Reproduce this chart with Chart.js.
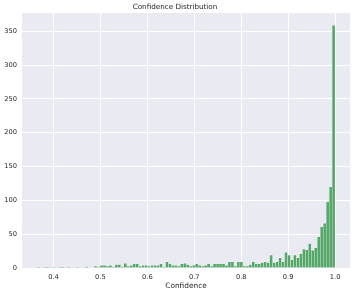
<!DOCTYPE html>
<html>
<head>
<meta charset="utf-8">
<script src="https://cdn.jsdelivr.net/npm/chart.js@4/dist/chart.umd.min.js"></script>
<style>
  html, body { margin: 0; padding: 0; background: #fff; }
  #wrap { width: 354px; height: 294px; }
</style>
</head>
<body>
<div id="wrap"><canvas id="chart" width="354" height="294"></canvas></div>
<script>
// histogram bins (100 bins from min confidence to 1.0)
const binStart = 0.366;
const binWidth = 0.00634;
const counts = [
  1, 0, 1, 1, 0, 1, 0, 1, 1, 0, 1, 0, 0, 1, 0, 0, 2, 0, 0, 3, 1,
  4, 4, 3, 4, 1, 5, 5, 2, 7, 3, 4, 6, 6, 3, 4, 4, 3, 4, 4, 4, 6, 1, 9, 6, 4, 4,
  3, 6, 7, 5, 3, 4, 6, 4, 3, 4, 6, 3, 6, 6, 6, 6, 4, 9, 9, 3, 9,
  9, 3, 3, 5, 9, 6, 6, 8, 9, 8, 19, 8, 9, 15, 9, 23, 19, 12, 19, 15, 21, 28, 27, 36, 26, 30, 46, 61, 66, 98, 120, 359
];
const xTicks = [0.4, 0.5, 0.6, 0.7, 0.8, 0.9, 1.0];
const yTicks = [0, 50, 100, 150, 200, 250, 300, 350];

const points = counts.map((c, i) => ({ x: binStart + (i + 0.5) * binWidth, y: c }));

const FONT = 'DejaVu Sans';
const TEXT = '#262626';

// grey plot background like seaborn darkgrid
const plotBg = {
  id: 'plotBg',
  beforeDraw(chart) {
    const { ctx, chartArea: a } = chart;
    ctx.save();
    ctx.fillStyle = '#eaeaf2';
    ctx.fillRect(a.left, a.top, a.right - a.left, a.bottom - a.top);
    ctx.restore();
  }
};

new Chart(document.getElementById('chart'), {
  type: 'bar',
  data: {
    datasets: [{
      data: points,
      backgroundColor: '#55a868',
      borderColor: 'rgba(255,255,255,0.45)',
      borderWidth: 0.5,
      barPercentage: 1,
      categoryPercentage: 1
    }]
  },
  options: {
    responsive: false,
    animation: false,
    layout: { padding: { left: 0, right: 4, top: 0, bottom: 0 } },
    plugins: {
      legend: { display: false },
      tooltip: { enabled: false },
      title: {
        display: true,
        text: 'Confidence Distribution',
        color: TEXT,
        font: { family: FONT, size: 7.2, weight: 'normal' },
        padding: { top: 2.4, bottom: 2 }
      }
    },
    scales: {
      x: {
        type: 'linear',
        min: 0.333,
        max: 1.0317,
        offset: false,
        afterBuildTicks: s => { s.ticks = xTicks.map(v => ({ value: v })); },
        afterFit: s => { s.height = 26; },
        grid: { color: '#ffffff', lineWidth: 1, drawTicks: false, offset: false },
        border: { display: false },
        ticks: {
          color: TEXT,
          font: { family: FONT, size: 6.7 },
          padding: 5.5,
          maxRotation: 0,
          callback: v => v.toFixed(1)
        },
        title: {
          display: true,
          text: 'Confidence',
          color: TEXT,
          font: { family: FONT, size: 7.4 },
          padding: { top: 0, bottom: 3.5 }
        }
      },
      y: {
        min: 0,
        max: 377,
        afterBuildTicks: s => { s.ticks = yTicks.map(v => ({ value: v })); },
        afterFit: s => { s.width = 22; },
        grid: { color: '#ffffff', lineWidth: 1, drawTicks: false },
        border: { display: false },
        ticks: {
          color: TEXT,
          font: { family: FONT, size: 6.7 },
          padding: 5
        }
      }
    }
  },
  plugins: [plotBg]
});
</script>
</body>
</html>
